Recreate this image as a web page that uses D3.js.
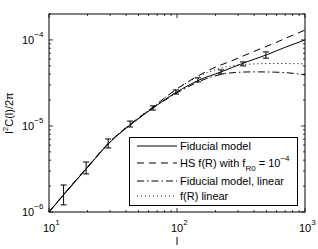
<!DOCTYPE html>
<html>
<head>
<meta charset="utf-8">
<script src="https://cdn.jsdelivr.net/npm/d3@7"></script>
<style>
  body { margin: 0; background: #fff; }
  svg text { font-family: "Liberation Sans", Arial, Helvetica, sans-serif; fill: #000; }
</style>
</head>
<body>
<div class="svg-container"></div>
<script>
// multipole grids
const ell = [10, 13, 20, 30, 45, 65, 100, 150, 220, 330, 500, 700, 1000];
const ellFine = [10, 13, 20, 30, 45, 65, 100, 150, 190, 260, 390, 580, 820, 1000];

// series
const fiducial = [1.0e-6, 1.58e-6, 3.3e-6, 6.5e-6, 1.08e-5, 1.62e-5, 2.49e-5, 3.43e-5, 4.24e-5, 5.37e-5, 6.7e-5, 8.2e-5, 1.0e-4];
const hsFR = [1.0e-6, 1.6e-6, 3.35e-6, 6.6e-6, 1.1e-5, 1.66e-5, 2.7e-5, 3.9e-5, 4.67e-5, 5.62e-5, 7.24e-5, 9.2e-5, 1.15e-4, 1.3e-4];
const fiducialLinear = [1.0e-6, 1.58e-6, 3.3e-6, 6.5e-6, 1.08e-5, 1.62e-5, 2.42e-5, 3.3e-5, 3.75e-5, 4.13e-5, 4.25e-5, 4.22e-5, 4.08e-5, 3.92e-5];
const frLinear = [1.0e-6, 1.6e-6, 3.35e-6, 6.6e-6, 1.1e-5, 1.66e-5, 2.7e-5, 3.8e-5, 4.4e-5, 4.95e-5, 5.25e-5, 5.32e-5, 5.3e-5, 5.28e-5];

// error bars
const barEll = [13, 19.5, 29, 43, 65, 98, 146, 221, 328, 495];
const barLow = [1.21e-6, 2.77e-6, 5.55e-6, 9.73e-6, 1.53e-5, 2.35e-5, 3.25e-5, 4.03e-5, 4.99e-5, 6.14e-5];
const barHigh = [2.06e-6, 3.81e-6, 7.06e-6, 1.14e-5, 1.71e-5, 2.62e-5, 3.62e-5, 4.48e-5, 5.55e-5, 7.25e-5];

const xTickExp = [1, 2, 3];
const yTickExp = [-6, -5, -4];

const legendLabels = ['Fiducial model', 'HS f(R) with f', 'Fiducial model, linear', 'f(R) linear'];

const width = 318;
const height = 249;
const margin = { top: 14, right: 13, bottom: 37, left: 49 };
const innerW = width - margin.left - margin.right;
const innerH = height - margin.top - margin.bottom;

const svg = d3.select('.svg-container')
  .append('svg')
  .attr('width', width)
  .attr('height', height);

const x = d3.scaleLog().domain([10, 1000]).range([margin.left, margin.left + innerW]);
const y = d3.scaleLog().domain([1e-6, 2e-4]).range([margin.top + innerH, margin.top]);

// minor + major ticks, drawn inward on all four sides
const xMinor = [];
for (let d = 1; d <= 2; d++) for (let k = 2; k <= 9; k++) xMinor.push(k * Math.pow(10, d));
const yMinor = [];
for (let d = -6; d <= -4; d++) for (let k = 2; k <= 9; k++) {
  const v = k * Math.pow(10, d);
  if (v <= 2e-4) yMinor.push(v);
}

const ticks = svg.append('g').attr('stroke', '#000').attr('stroke-width', 0.8);
const x0 = margin.left, x1 = margin.left + innerW;
const y0 = margin.top + innerH, y1 = margin.top;

xTickExp.map(e => Math.pow(10, e)).forEach(v => {
  ticks.append('line').attr('x1', x(v)).attr('x2', x(v)).attr('y1', y0).attr('y2', y0 - 4);
  ticks.append('line').attr('x1', x(v)).attr('x2', x(v)).attr('y1', y1).attr('y2', y1 + 4);
});
xMinor.forEach(v => {
  ticks.append('line').attr('x1', x(v)).attr('x2', x(v)).attr('y1', y0).attr('y2', y0 - 2);
  ticks.append('line').attr('x1', x(v)).attr('x2', x(v)).attr('y1', y1).attr('y2', y1 + 2);
});
yTickExp.map(e => Math.pow(10, e)).forEach(v => {
  ticks.append('line').attr('y1', y(v)).attr('y2', y(v)).attr('x1', x0).attr('x2', x0 + 4);
  ticks.append('line').attr('y1', y(v)).attr('y2', y(v)).attr('x1', x1).attr('x2', x1 - 4);
});
yMinor.forEach(v => {
  ticks.append('line').attr('y1', y(v)).attr('y2', y(v)).attr('x1', x0).attr('x2', x0 + 2);
  ticks.append('line').attr('y1', y(v)).attr('y2', y(v)).attr('x1', x1).attr('x2', x1 - 2);
});

// frame
svg.append('rect')
  .attr('x', x0).attr('y', y1)
  .attr('width', innerW).attr('height', innerH)
  .attr('fill', 'none')
  .attr('stroke', '#000')
  .attr('stroke-width', 1);

// tick labels with superscript exponents
xTickExp.forEach(e => {
  const t = svg.append('text')
    .attr('x', x(Math.pow(10, e)) - 6)
    .attr('y', 232)
    .attr('font-size', 11);
  t.append('tspan').text('10');
  t.append('tspan').attr('dy', -7).attr('font-size', 8).text(e);
});
yTickExp.forEach(e => {
  const t = svg.append('text')
    .attr('x', 22)
    .attr('y', y(Math.pow(10, e)) + 4)
    .attr('font-size', 11);
  t.append('tspan').text('10');
  t.append('tspan').attr('dy', -7).attr('font-size', 8).text('\u2212' + Math.abs(e));
});

// axis titles
svg.append('text')
  .attr('x', x(100))
  .attr('y', 245)
  .attr('text-anchor', 'middle')
  .attr('font-size', 11)
  .text('l');

const yt = svg.append('text')
  .attr('transform', `translate(13,${margin.top + innerH / 2}) rotate(-90)`)
  .attr('text-anchor', 'middle')
  .attr('font-size', 11);
yt.append('tspan').text('l');
yt.append('tspan').attr('dy', -5).attr('font-size', 8).text('2');
yt.append('tspan').attr('dy', 5).text('C(l)/2\u03c0');

// curves
const line = d3.line()
  .x(d => x(d[0]))
  .y(d => y(d[1]))
  .curve(d3.curveMonotoneX);

const plot = svg.append('g');
const series = [
  { vals: fiducial, grid: ell, dash: null },
  { vals: hsFR, grid: ellFine, dash: '7,5' },
  { vals: fiducialLinear, grid: ellFine, dash: '7,3,1.5,3' },
  { vals: frLinear, grid: ellFine, dash: '1,3' }
];
series.forEach(s => {
  plot.append('path')
    .datum(s.grid.map((l, i) => [l, s.vals[i]]))
    .attr('d', line)
    .attr('fill', 'none')
    .attr('stroke', '#000')
    .attr('stroke-width', 1)
    .attr('stroke-dasharray', s.dash);
});

// error bars
const bars = plot.append('g').attr('stroke', '#000').attr('stroke-width', 1);
barEll.forEach((l, i) => {
  const cx = x(l);
  bars.append('line').attr('x1', cx).attr('x2', cx).attr('y1', y(barLow[i])).attr('y2', y(barHigh[i]));
  bars.append('line').attr('x1', cx - 3).attr('x2', cx + 3).attr('y1', y(barLow[i])).attr('y2', y(barLow[i]));
  bars.append('line').attr('x1', cx - 3).attr('x2', cx + 3).attr('y1', y(barHigh[i])).attr('y2', y(barHigh[i]));
});

// legend
const lg = svg.append('g');
lg.append('rect')
  .attr('x', 129.5).attr('y', 137.5)
  .attr('width', 168).attr('height', 68)
  .attr('fill', '#fff')
  .attr('stroke', '#000')
  .attr('stroke-width', 1);

const rowY = [146, 163, 181, 196];
series.forEach((s, i) => {
  lg.append('line')
    .attr('x1', 137).attr('x2', 177)
    .attr('y1', rowY[i]).attr('y2', rowY[i])
    .attr('stroke', '#000')
    .attr('stroke-width', 1)
    .attr('stroke-dasharray', s.dash);
  const t = lg.append('text')
    .attr('x', 180)
    .attr('y', rowY[i] + 4)
    .attr('font-size', 11);
  t.append('tspan').text(legendLabels[i]);
  if (i === 1) {
    t.append('tspan').attr('dy', 4).attr('font-size', 8).text('R0');
    t.append('tspan').attr('dy', -4).text(' = 10');
    t.append('tspan').attr('dy', -6).attr('font-size', 8).text('\u22124');
  }
});
</script>
</body>
</html>
